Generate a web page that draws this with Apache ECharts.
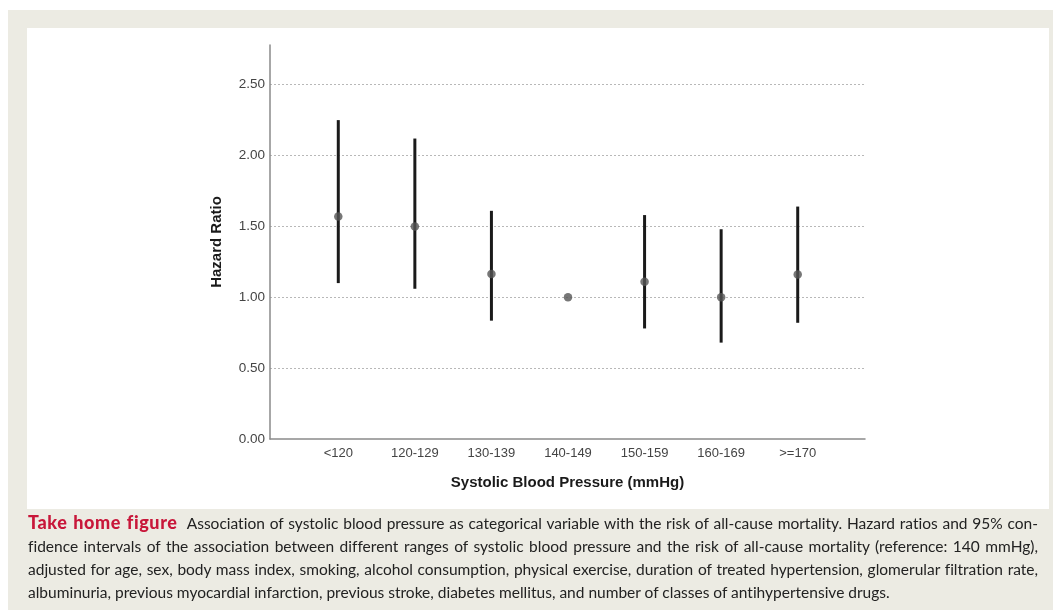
<!DOCTYPE html>
<html>
<head>
<meta charset="utf-8">
<script src="https://cdn.jsdelivr.net/npm/echarts@6/dist/echarts.min.js"></script>
<style>
  html, body { margin:0; padding:0; width:1053px; height:612px; background:#ffffff; overflow:hidden; }
  #outer { position:absolute; left:8px; top:10px; width:1045px; height:600px; background:#ecebe3; }
  #inner { position:absolute; left:27px; top:28px; width:1022px; height:481px; background:#ffffff; }
  #chart { position:absolute; left:0; top:0; width:1053px; height:612px; }
  #caption { position:absolute; left:28px; top:511px; width:1010px; font-family:Lato, "Open Sans", sans-serif; font-size:15.5px; line-height:23px; color:#222; font-variant-ligatures:none; font-feature-settings:"liga" 0, "clig" 0; }
  #caption div { text-align:justify; text-align-last:justify; white-space:nowrap; }
  #caption div.last { text-align-last:left; }
  #caption b { color:#c8173a; font-size:18px; font-weight:900; letter-spacing:0.6px; }
</style>
</head>
<body>
<div id="outer"></div>
<div id="inner"></div>
<div id="chart"></div>
<div id="caption">
  <div><b>Take home figure</b>&nbsp; Association of systolic blood pressure as categorical variable with the risk of all-cause mortality. Hazard ratios and 95% con-</div>
  <div>fidence intervals of the association between different ranges of systolic blood pressure and the risk of all-cause mortality (reference: 140 mmHg),</div>
  <div>adjusted for age, sex, body mass index, smoking, alcohol consumption, physical exercise, duration of treated hypertension, glomerular filtration rate,</div>
  <div class="last">albuminuria, previous myocardial infarction, previous stroke, diabetes mellitus, and number of classes of antihypertensive drugs.</div>
</div>
<script>
const categories = ['<120', '120-129', '130-139', '140-149', '150-159', '160-169', '>=170'];
const hazardRatio = [1.57, 1.50, 1.165, 1.00, 1.11, 1.00, 1.16];
const ciLower = [1.10, 1.06, 0.835, null, 0.78, 0.68, 0.82];
const ciUpper = [2.25, 2.12, 1.61, null, 1.58, 1.48, 1.64];
const yMin = 0, yMax = 2.78, yInterval = 0.5;

const chart = echarts.init(document.getElementById('chart'), null, { renderer: 'canvas' });
const FONT = '"Liberation Sans", Arial, sans-serif';

const errData = categories.map((c, i) => [i, ciLower[i], ciUpper[i]]);

chart.setOption({
  backgroundColor: 'transparent',
  animation: false,
  grid: [
    { left: 270, right: 188, top: 45, bottom: 173 },
    { left: 300, right: 217, top: 45, bottom: 173 }
  ],
  xAxis: [
    {
      type: 'value', gridIndex: 0, min: 0, max: 1,
      axisLine: { show: true, lineStyle: { color: '#8a8a8a', width: 1.5 } },
      axisTick: { show: false }, axisLabel: { show: false }, splitLine: { show: false },
      name: 'Systolic Blood Pressure (mmHg)', nameLocation: 'middle', nameGap: 36,
      nameTextStyle: { fontFamily: FONT, fontSize: 15, fontWeight: 'bold', color: '#1a1a1a' }
    },
    {
      type: 'category', gridIndex: 1, data: categories, boundaryGap: true,
      axisLine: { show: false }, axisTick: { show: false }, splitLine: { show: false },
      axisLabel: { margin: 8, fontFamily: FONT, fontSize: 13, color: '#444' }
    }
  ],
  yAxis: [
    {
      type: 'value', gridIndex: 0, min: yMin, max: yMax, interval: yInterval,
      axisLine: { show: true, lineStyle: { color: '#8a8a8a', width: 1.5 } },
      axisTick: { show: false },
      axisLabel: { margin: 5, fontFamily: FONT, fontSize: 13.5, color: '#444', showMaxLabel: false,
        formatter: v => v.toFixed(2) },
      splitLine: { show: true, showMinLine: false, showMaxLine: false,
        lineStyle: { color: '#b8b8b8', type: [2, 2], width: 1 } },
      name: 'Hazard Ratio', nameLocation: 'middle', nameGap: 46, nameRotate: 90,
      nameTextStyle: { fontFamily: FONT, fontSize: 15, fontWeight: 'bold', color: '#1a1a1a' }
    },
    {
      type: 'value', gridIndex: 1, min: yMin, max: yMax, interval: yInterval,
      show: false, splitLine: { show: false }
    }
  ],
  series: [
    {
      type: 'custom', xAxisIndex: 1, yAxisIndex: 1, data: errData, z: 2,
      renderItem: function (params, api) {
        const lo = api.value(1), hi = api.value(2);
        if (lo == null || hi == null || isNaN(lo) || isNaN(hi)) return null;
        const p1 = api.coord([api.value(0), lo]);
        const p2 = api.coord([api.value(0), hi]);
        return { type: 'line', shape: { x1: p1[0], y1: p1[1], x2: p2[0], y2: p2[1] },
          style: { stroke: '#1a1a1a', lineWidth: 3 } };
      }
    },
    {
      type: 'scatter', xAxisIndex: 1, yAxisIndex: 1, data: hazardRatio, z: 3,
      symbol: 'circle', symbolSize: 8.5, itemStyle: { color: '#555555' }
    }
  ]
});
</script>
</body>
</html>
